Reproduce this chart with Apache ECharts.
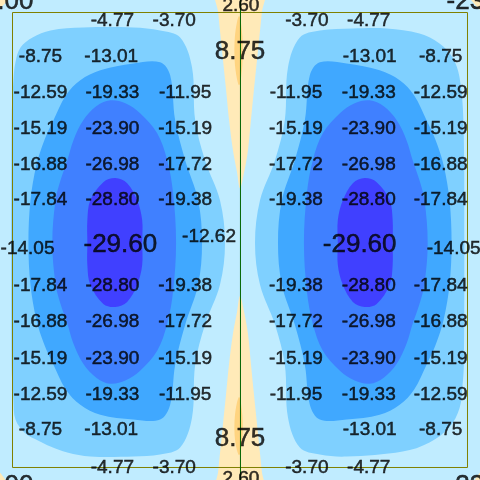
<!DOCTYPE html>
<html><head><meta charset="utf-8">
<script src="https://cdn.jsdelivr.net/npm/echarts@6/dist/echarts.min.js"></script>
<style>html,body{margin:0;padding:0;background:#fff}#c{width:480px;height:480px}</style>
</head><body><div id="c"></div>
<script>
// Domain: the framed plot box is [-1,1] x [-1,1]; the view extends a little beyond it.
// Contour band outlines.
const band2Left = [[-1.004,0.526],[-0.996,0.702],[-0.987,0.781],[-0.965,0.846],[-0.912,0.890],[-0.833,0.921],[-0.689,0.934],[-0.469,0.934],[-0.351,0.921],[-0.263,0.890],[-0.211,0.759],[-0.197,0.526],[-0.154,0.351],[-0.088,0.175],[-0.066,-0.013],[-0.088,-0.197],[-0.154,-0.373],[-0.197,-0.548],[-0.211,-0.781],[-0.263,-0.912],[-0.351,-0.943],[-0.469,-0.952],[-0.658,-0.952],[-0.759,-0.934],[-0.833,-0.908],[-0.886,-0.882],[-0.943,-0.851],[-0.987,-0.789],[-0.996,-0.702],[-1.004,-0.548]];
const band2Right = [[0.982,0.526],[0.965,0.715],[0.934,0.803],[0.877,0.864],[0.789,0.908],[0.645,0.930],[0.496,0.930],[0.351,0.921],[0.263,0.890],[0.211,0.759],[0.197,0.526],[0.154,0.351],[0.088,0.175],[0.066,-0.013],[0.088,-0.197],[0.154,-0.373],[0.197,-0.548],[0.211,-0.781],[0.263,-0.912],[0.351,-0.943],[0.469,-0.952],[0.715,-0.930],[0.833,-0.890],[0.921,-0.822],[0.965,-0.740],[0.978,-0.640],[0.984,-0.548],[0.986,-0.013]];
const band3Left = [[-0.930,-0.013],[-0.921,0.175],[-0.895,0.329],[-0.860,0.439],[-0.820,0.526],[-0.765,0.636],[-0.702,0.702],[-0.614,0.746],[-0.469,0.776],[-0.351,0.781],[-0.307,0.724],[-0.285,0.526],[-0.241,0.351],[-0.184,0.175],[-0.167,-0.013],[-0.184,-0.197],[-0.241,-0.373],[-0.285,-0.548],[-0.307,-0.724],[-0.351,-0.789],[-0.469,-0.789],[-0.614,-0.768],[-0.702,-0.724],[-0.765,-0.658],[-0.820,-0.548],[-0.860,-0.461],[-0.895,-0.351],[-0.921,-0.197]];
const band4Left = [[-0.825,-0.013],[-0.811,0.175],[-0.789,0.263],[-0.759,0.351],[-0.732,0.439],[-0.689,0.526],[-0.632,0.588],[-0.570,0.614],[-0.504,0.601],[-0.439,0.557],[-0.364,0.469],[-0.320,0.351],[-0.294,0.206],[-0.281,-0.013],[-0.294,-0.224],[-0.320,-0.368],[-0.364,-0.487],[-0.439,-0.575],[-0.504,-0.618],[-0.570,-0.632],[-0.632,-0.605],[-0.689,-0.544],[-0.732,-0.456],[-0.759,-0.368],[-0.789,-0.281],[-0.811,-0.193]];
const band5Left = [[-0.548,0.272],[-0.496,0.250],[-0.452,0.175],[-0.430,0.088],[-0.430,-0.013],[-0.430,-0.110],[-0.452,-0.197],[-0.496,-0.272],[-0.548,-0.294],[-0.601,-0.281],[-0.658,-0.197],[-0.671,-0.110],[-0.671,-0.013],[-0.671,0.088],[-0.658,0.175],[-0.601,0.254]];
const warmTop = [[-0.105,1.096],[-0.096,1.0],[-0.079,0.833],[-0.061,0.658],[-0.048,0.526],[-0.031,0.395],[-0.013,0.298],[0,0.228],[0.018,0.298],[0.035,0.395],[0.048,0.526],[0.061,0.658],[0.079,0.833],[0.096,1.0],[0.105,1.096]];
const warmBottom = [[-0.105,-1.114],[-0.096,-1.018],[-0.079,-0.851],[-0.061,-0.675],[-0.048,-0.544],[-0.031,-0.412],[-0.013,-0.316],[0,-0.246],[0.018,-0.316],[0.035,-0.412],[0.048,-0.544],[0.061,-0.675],[0.079,-0.851],[0.096,-1.018],[0.105,-1.114]];
const hotTop = [[-0.004,0.985],[-0.022,0.899],[-0.022,0.768],[-0.004,0.680],[0.010,0.768],[0.010,0.899]];
const hotBottom = [[-0.004,-0.690],[-0.022,-0.768],[-0.022,-0.877],[-0.004,-0.946],[0.010,-0.877],[0.010,-0.768]];
const warmCorners = [
  [[-1.1,1.1],[-0.99,1.1],[-1.1,0.99]],
  [[1.1,1.1],[0.99,1.1],[1.1,0.98]],
  [[-1.1,-1.1],[-1.01,-1.1],[-1.1,-0.98]],
  [[1.1,-1.1],[1.01,-1.1],[1.1,-0.98]]
];
// value labels: [x, y, value]
const smallLabels = [
 [-0.561,0.965,-4.77],[-0.289,0.965,-3.70],[0.294,0.965,-3.70],[0.566,0.965,-4.77],
 [-0.877,0.807,-8.75],[-0.566,0.807,-13.01],[0.570,0.807,-13.01],[0.882,0.807,-8.75],
 [-0.877,0.649,-12.59],[-0.561,0.649,-19.33],[-0.241,0.649,-11.95],[0.246,0.649,-11.95],[0.566,0.649,-19.33],[0.882,0.649,-12.59],
 [-0.877,0.491,-15.19],[-0.561,0.491,-23.90],[-0.241,0.491,-15.19],[0.246,0.491,-15.19],[0.566,0.491,-23.90],[0.882,0.491,-15.19],
 [-0.877,0.329,-16.88],[-0.561,0.329,-26.98],[-0.241,0.329,-17.72],[0.246,0.329,-17.72],[0.566,0.329,-26.98],[0.882,0.329,-16.88],
 [-0.877,0.175,-17.84],[-0.561,0.175,-28.80],[-0.241,0.175,-19.38],[0.246,0.175,-19.38],[0.566,0.175,-28.80],[0.882,0.175,-17.84],
 [-0.934,-0.039,-14.05],[-0.136,0.013,-12.62],[0.939,-0.039,-14.05],
 [-0.877,-0.202,-17.84],[-0.561,-0.202,-28.80],[-0.241,-0.202,-19.38],[0.246,-0.202,-19.38],[0.566,-0.202,-28.80],[0.882,-0.202,-17.84],
 [-0.877,-0.360,-16.88],[-0.561,-0.360,-26.98],[-0.241,-0.360,-17.72],[0.246,-0.360,-17.72],[0.566,-0.360,-26.98],[0.882,-0.360,-16.88],
 [-0.877,-0.522,-15.19],[-0.561,-0.522,-23.90],[-0.241,-0.522,-15.19],[0.246,-0.522,-15.19],[0.566,-0.522,-23.90],[0.882,-0.522,-15.19],
 [-0.877,-0.680,-12.59],[-0.561,-0.680,-19.33],[-0.241,-0.680,-11.95],[0.246,-0.680,-11.95],[0.566,-0.680,-19.33],[0.882,-0.680,-12.59],
 [-0.877,-0.833,-8.75],[-0.566,-0.833,-13.01],[0.570,-0.833,-13.01],[0.882,-0.833,-8.75],
 [-0.561,-1.0,-4.77],[-0.289,-1.0,-3.70],[0.294,-1.0,-3.70],[0.566,-1.0,-4.77],
 [0.004,1.031,2.60],[0.004,-1.048,2.60]
];
const bigLabels = [
 [0,0.825,8.75],[0,-0.873,8.75],[-0.526,-0.022,-29.60],[0.526,-0.022,-29.60],
 [-1.070,1.048,-23.00],[1.070,1.048,-23.00],[-1.070,-1.079,-23.00],[1.070,-1.079,-23.00]
];
const frame = [[-1,-1],[1,-1],[1,1],[-1,1],[-1,-1]];
const centerLine = [[0.002,-1.1],[0.002,1.1]];

const C = {b1:'#C0ECFF', b2:'#7FD0FF', b3:'#40A8FF', b4:'#4080FF', b5:'#4040FF', warm:'#FFEAB8', hot:'#FFD480'};
const mirror = p => p.map(([x,y]) => [-x,y]);

function polySeries(points, color, z){
  return {
    type:'custom', coordinateSystem:'cartesian2d', clip:false, silent:true, z:z,
    data: points,
    renderItem: function(params, api){
      if (params.dataIndex !== 0) return null;
      return {type:'polygon', shape:{points: points.map(p => api.coord(p)), smooth:0.35},
              style:{fill: color, stroke: null}};
    }
  };
}
function labelSeries(data, size, z){
  return {
    type:'scatter', data: data, symbolSize:1, clip:false, silent:true, z:z,
    itemStyle:{color:'rgba(0,0,0,0)'},
    label:{show:true, position:'inside', color:'#000', fontSize:size,
      fontFamily:'"Liberation Sans", Arial, sans-serif',
      textBorderColor:'#000', textBorderWidth:0.5,
      formatter: p => p.value[2].toFixed(2)}
  };
}

const series = [];
series.push(polySeries(warmTop, C.warm, 1));
series.push(polySeries(warmBottom, C.warm, 1));
warmCorners.forEach(c => series.push(polySeries(c, C.warm, 1)));
series.push(polySeries(hotTop, C.hot, 2));
series.push(polySeries(hotBottom, C.hot, 2));
series.push(polySeries(band2Left, C.b2, 3));
series.push(polySeries(band2Right, C.b2, 3));
[[band3Left,C.b3,4],[band4Left,C.b4,5],[band5Left,C.b5,6]].forEach(([p,c,z]) => {
  series.push(polySeries(p, c, z));
  series.push(polySeries(mirror(p), c, z));
});
series.push({type:'line', data: frame, clip:false, silent:true, z:8, symbol:'none',
  lineStyle:{color:'#808000', width:1}});
series.push({type:'line', data: centerLine, clip:false, silent:true, z:8, symbol:'none',
  lineStyle:{color:'#006400', width:1}});
series.push(labelSeries(smallLabels, 19, 10));
series.push(labelSeries(bigLabels, 26, 10));

const chart = echarts.init(document.getElementById('c'), null, {renderer:'canvas'});
chart.setOption({
  animation:false,
  backgroundColor: C.b1,
  grid:{left:0, right:0, top:0, bottom:0},
  xAxis:{type:'value', min:-1.055, max:1.055, show:false},
  yAxis:{type:'value', min:-1.055, max:1.055, show:false},
  series: series
});
</script>
</body></html>
